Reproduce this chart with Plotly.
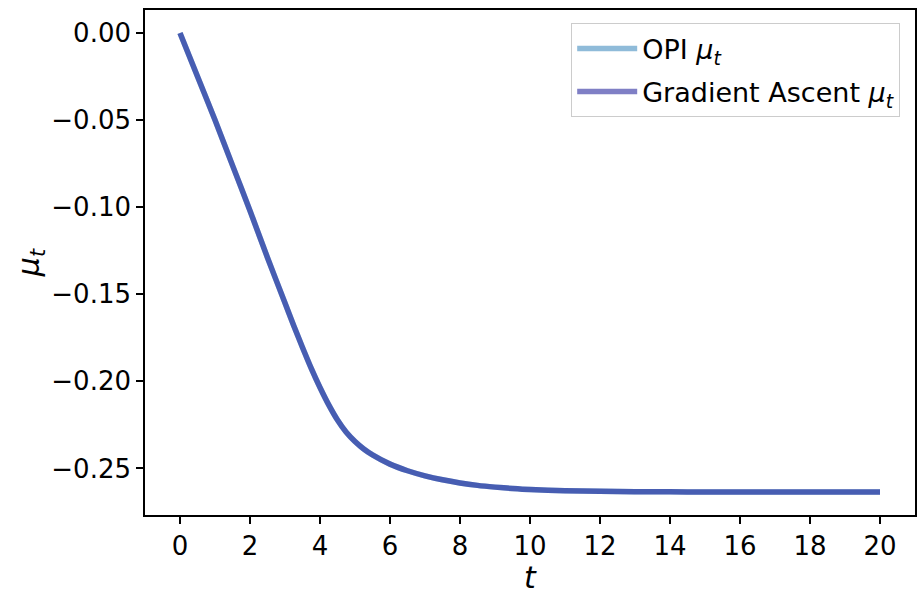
import plotly.graph_objects as go

t_vals = [0, 0.5, 1.0, 1.5, 2.0, 2.5, 3.0, 3.25, 3.5, 3.75, 4.0, 4.25, 4.5, 4.75, 5.0, 5.25, 5.5,
          6.0, 6.5, 7.0, 7.5, 8.0, 8.5, 9.0, 9.5, 10, 11, 12, 13, 14, 15, 16, 17, 18, 19, 20]
opi_mu = [0.000, -0.025, -0.050, -0.076, -0.102, -0.129, -0.155, -0.168, -0.1805, -0.1925,
          -0.2035, -0.2135, -0.2222, -0.2292, -0.2345, -0.2388, -0.2422, -0.2475, -0.2513,
          -0.2542, -0.2565, -0.2583, -0.2597, -0.2607, -0.2615, -0.2621, -0.2628, -0.2631,
          -0.2633, -0.2634, -0.2635, -0.2635, -0.2635, -0.2635, -0.2635, -0.2635]
ga_mu = list(opi_mu)

x_ticks = list(range(0, 21, 2))
y_ticks = [0.0, -0.05, -0.10, -0.15, -0.20, -0.25]

font = "DejaVu Sans"

fig = go.Figure()
fig.add_trace(go.Scatter(x=t_vals, y=opi_mu, mode="lines", legendgroup="opi",
                         name="OPI <i>μ</i><sub><i>t</i></sub>",
                         line=dict(color="rgba(31,119,180,0.5)", width=5.5, shape="spline", smoothing=0.6)))
fig.add_trace(go.Scatter(x=t_vals, y=ga_mu, mode="lines", legendgroup="ga",
                         name="Gradient Ascent <i>μ</i><sub><i>t</i></sub>",
                         line=dict(color="rgba(0,0,139,0.5)", width=5.5, shape="spline", smoothing=0.6)))

axis_common = dict(showline=True, linecolor="black", linewidth=1.6, mirror=True,
                   ticks="outside", ticklen=7, tickwidth=1.6, tickcolor="black",
                   showgrid=False, zeroline=False, automargin=False,
                   tickfont=dict(family=font, size=26, color="black"))

fig.update_layout(
    width=917, height=595,
    margin=dict(l=145, r=2, t=10, b=80),
    paper_bgcolor="white", plot_bgcolor="white",
    font=dict(family=font, color="black"),
    xaxis=dict(range=[-1, 21], tickvals=x_ticks,
               title=dict(text="<i>t</i>", font=dict(family=font, size=30), standoff=8),
               **axis_common),
    yaxis=dict(range=[-0.2767, 0.0132], tickvals=y_ticks, tickformat=".2f",
               title=dict(text="<i>μ</i><sub><i>t</i></sub>", font=dict(family=font, size=30), standoff=3),
               **axis_common),
    legend=dict(x=0.9805, y=0.974, xanchor="right", yanchor="top",
                bgcolor="rgba(255,255,255,0.8)", bordercolor="#cccccc", borderwidth=1.2,
                font=dict(family=font, size=27, color="black"), itemwidth=60,
                tracegroupgap=5),
    showlegend=True,
)

fig.write_html("out.html", config={"displayModeBar": False},
               post_script="document.body.style.margin='0';document.body.style.overflow='hidden';")
